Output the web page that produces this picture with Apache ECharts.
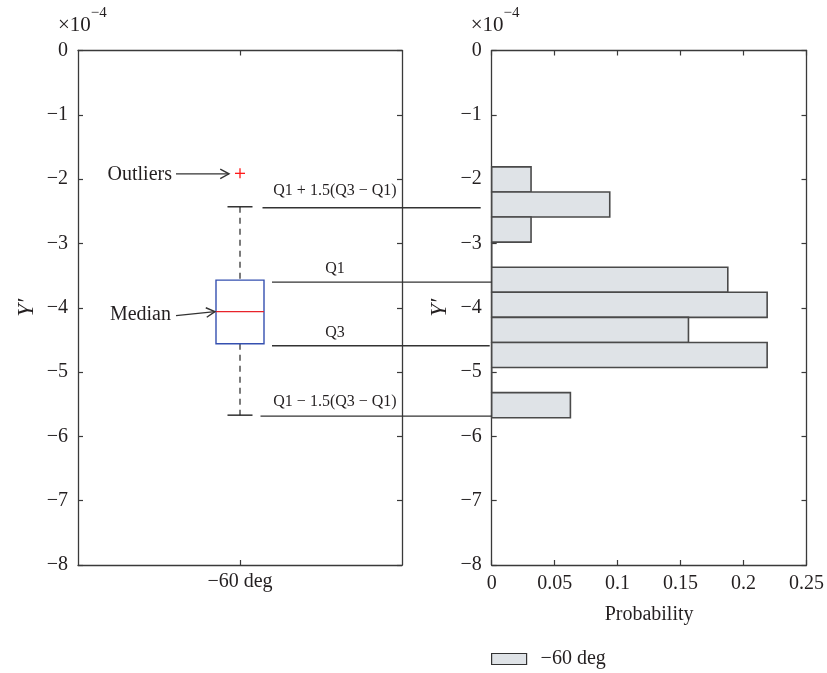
<!DOCTYPE html>
<html><head><meta charset="utf-8">
<script src="https://cdn.jsdelivr.net/npm/echarts@6/dist/echarts.min.js"></script>
<style>html,body{margin:0;padding:0;background:#fff}#c{width:827px;height:673px}</style>
</head><body><div id="c"></div>
<script>
// ---- data ----
const categories = ['−60 deg'];
// [lower whisker, lower quartile, median, upper quartile, upper whisker]  (×10^-4)
const boxStats = [-5.67, -4.56, -4.06, -3.57, -2.43];
const outliers = [-1.91];
// histogram bins (×10^-4), top edge -> bottom edge
const binEdges = [-1.81, -2.20, -2.59, -2.98, -3.37, -3.76, -4.15, -4.54, -4.93, -5.32, -5.71];
const probabilities = [0.03125, 0.09375, 0.03125, 0, 0.1875, 0.21875, 0.15625, 0.21875, 0, 0.0625];
const yRange = [-8, 0];
const probRange = [0, 0.25];
const annotationLabels = ['Q1 + 1.5(Q3 − Q1)', 'Q1', 'Q3', 'Q1 − 1.5(Q3 − Q1)'];
const annotationValues = [boxStats[4], boxStats[3], boxStats[1], boxStats[0]];

// ---- style ----
const FONT = '"Liberation Serif", "DejaVu Serif", serif';
const TXT = '#231f20';
const AX = '#3a3a3a';
const BOX_HALF = 24, CAP_HALF = 12.5;

const histData = probabilities.map((p, i) => [binEdges[i], binEdges[i + 1], p]);
const minus = v => String(v).replace('-', '−');

function axisBase(extra) {
  return Object.assign({
    axisLine: {show: true, onZero: false, lineStyle: {color: AX, width: 1.3}},
    axisTick: {show: true, inside: true, length: 5, lineStyle: {color: AX, width: 1.2}},
    axisLabel: {show: false},
    splitLine: {show: false}
  }, extra);
}
const labelStyle = {show: true, color: TXT, fontFamily: FONT, fontSize: 20, formatter: minus};

const option = {
  animation: false,
  backgroundColor: '#fff',
  grid: [
    {left: 78, right: 425, top: 50.5, bottom: 108},
    {left: 491.7, right: 19.3, top: 50.5, bottom: 108}
  ],
  xAxis: [
    axisBase({type: 'category', data: categories, gridIndex: 0, position: 'bottom',
      axisTick: {show: true, inside: true, length: 5, alignWithLabel: true, lineStyle: {color: AX, width: 1.2}},
      axisLabel: Object.assign({}, labelStyle, {margin: 7, formatter: null})}),
    axisBase({type: 'category', data: categories, gridIndex: 0, position: 'top',
      axisTick: {show: true, inside: true, length: 5, alignWithLabel: true, lineStyle: {color: AX, width: 1.2}}}),
    axisBase({type: 'value', gridIndex: 1, position: 'bottom', min: probRange[0], max: probRange[1], interval: 0.05,
      axisLabel: Object.assign({}, labelStyle, {margin: 9, formatter: null}),
      name: 'Probability', nameLocation: 'middle', nameGap: 40,
      nameTextStyle: {color: TXT, fontFamily: FONT, fontSize: 20}}),
    axisBase({type: 'value', gridIndex: 1, position: 'top', min: probRange[0], max: probRange[1], interval: 0.05})
  ],
  yAxis: [
    axisBase({type: 'value', gridIndex: 0, position: 'left', min: yRange[0], max: yRange[1], interval: 1,
      axisLabel: Object.assign({}, labelStyle, {margin: 10}),
      name: 'Y′', nameLocation: 'middle', nameGap: 40, nameRotate: 90,
      nameTextStyle: {color: TXT, fontFamily: FONT, fontSize: 23, fontStyle: 'italic'}}),
    axisBase({type: 'value', gridIndex: 0, position: 'right', min: yRange[0], max: yRange[1], interval: 1}),
    axisBase({type: 'value', gridIndex: 1, position: 'left', min: yRange[0], max: yRange[1], interval: 1,
      axisLabel: Object.assign({}, labelStyle, {margin: 10}),
      name: 'Y′', nameLocation: 'middle', nameGap: 40, nameRotate: 90,
      nameTextStyle: {color: TXT, fontFamily: FONT, fontSize: 23, fontStyle: 'italic'}}),
    axisBase({type: 'value', gridIndex: 1, position: 'right', min: yRange[0], max: yRange[1], interval: 1})
  ],
  legend: {
    left: 491, top: 649, padding: 0, icon: 'rect', itemWidth: 35, itemHeight: 11,
    textStyle: {color: TXT, fontFamily: FONT, fontSize: 20, padding: [0, 0, 0, 9]},
    data: [{name: '−60 deg', itemStyle: {color: '#dfe3e7', borderColor: '#333', borderWidth: 1.2}}]
  },
  series: [
    {
      name: 'box', type: 'custom', xAxisIndex: 0, yAxisIndex: 0,
      data: [[0].concat(boxStats)],
      renderItem: function (params, api) {
        const c = api.value(0);
        const pMin = api.coord([c, api.value(1)]);
        const pQ1 = api.coord([c, api.value(2)]);
        const pMed = api.coord([c, api.value(3)]);
        const pQ3 = api.coord([c, api.value(4)]);
        const pMax = api.coord([c, api.value(5)]);
        const x = pMed[0];
        const dash = {stroke: '#444', lineWidth: 1.4, lineDash: [6, 5]};
        const solid = {stroke: '#222', lineWidth: 1.4};
        return {type: 'group', children: [
          {type: 'line', shape: {x1: x, y1: pMax[1], x2: x, y2: pQ3[1]}, style: dash},
          {type: 'line', shape: {x1: x, y1: pQ1[1], x2: x, y2: pMin[1]}, style: dash},
          {type: 'line', shape: {x1: x - CAP_HALF, y1: pMax[1], x2: x + CAP_HALF, y2: pMax[1]}, style: solid},
          {type: 'line', shape: {x1: x - CAP_HALF, y1: pMin[1], x2: x + CAP_HALF, y2: pMin[1]}, style: solid},
          {type: 'rect', shape: {x: x - BOX_HALF, y: pQ3[1], width: 2 * BOX_HALF, height: pQ1[1] - pQ3[1]},
            style: {fill: 'none', stroke: '#3550b0', lineWidth: 1.4}},
          {type: 'line', shape: {x1: x - BOX_HALF, y1: pMed[1], x2: x + BOX_HALF, y2: pMed[1]},
            style: {stroke: '#e8232b', lineWidth: 1.4}}
        ]};
      }
    },
    {
      name: 'outliers', type: 'custom', xAxisIndex: 0, yAxisIndex: 0,
      data: outliers.map(v => [0, v]),
      renderItem: function (params, api) {
        const p = api.coord([api.value(0), api.value(1)]);
        const st = {stroke: '#ff1a1a', lineWidth: 1.3};
        return {type: 'group', children: [
          {type: 'line', shape: {x1: p[0] - 5, y1: p[1], x2: p[0] + 5, y2: p[1]}, style: st},
          {type: 'line', shape: {x1: p[0], y1: p[1] - 5, x2: p[0], y2: p[1] + 5}, style: st}
        ]};
      }
    },
    {
      name: '−60 deg', type: 'custom', xAxisIndex: 2, yAxisIndex: 2,
      itemStyle: {color: '#dfe3e7'},
      data: histData,
      renderItem: function (params, api) {
        const top = api.coord([0, api.value(0)]);
        const bot = api.coord([api.value(2), api.value(1)]);
        return {type: 'rect',
          shape: {x: top[0], y: top[1], width: bot[0] - top[0], height: bot[1] - top[1]},
          style: {fill: '#dfe3e7', stroke: '#4a4a4a', lineWidth: 1.6}};
      }
    }
  ]
};

const chart = echarts.init(document.getElementById('c'), null, {renderer: 'canvas'});
chart.setOption(option);

// ---- annotations placed through the axes' own scales ----
const cx = chart.convertToPixel({xAxisIndex: 0}, categories[0]);
const py = v => chart.convertToPixel({yAxisIndex: 0}, v);
const xr0 = chart.convertToPixel({xAxisIndex: 2}, 0);
const lineSt = {stroke: '#333', lineWidth: 1.4};
const g = [];
const starts = [cx + CAP_HALF + 10, cx + BOX_HALF + 8, cx + BOX_HALF + 8, cx + CAP_HALF + 8];
const ends = [xr0 - 11, xr0, xr0 - 2, xr0];
const yOff = [1, 2, 2, 1];
const tOff = [9, 5, 5, 6];
annotationValues.forEach((v, i) => {
  const y = py(v) + yOff[i];
  g.push({type: 'line', shape: {x1: starts[i], y1: y, x2: ends[i], y2: y}, style: lineSt, z: 10});
  g.push({type: 'text', x: cx + 95, y: y - tOff[i], z: 10,
    style: {text: annotationLabels[i], fill: TXT, font: '16px ' + FONT, textAlign: 'center', textVerticalAlign: 'bottom'}});
});
function arrow(x1, y1, x2, y2) {
  const a = Math.atan2(y2 - y1, x2 - x1), L = 10, w = 0.5;
  g.push({type: 'line', shape: {x1, y1, x2, y2}, style: lineSt, z: 10});
  g.push({type: 'polyline', z: 10, shape: {points: [
    [x2 - L * Math.cos(a - w), y2 - L * Math.sin(a - w)], [x2, y2],
    [x2 - L * Math.cos(a + w), y2 - L * Math.sin(a + w)]]}, style: Object.assign({fill: 'none'}, lineSt)});
}
const oy = py(outliers[0]);
arrow(cx - 64, oy + 0.5, cx - 11, oy + 0.5);
g.push({type: 'text', x: cx - 68, y: oy + 1, z: 10,
  style: {text: 'Outliers', fill: TXT, font: '20px ' + FONT, textAlign: 'right', textVerticalAlign: 'middle'}});
const my = py(boxStats[2]);
arrow(cx - 64, my + 4, cx - BOX_HALF - 1, my);
g.push({type: 'text', x: cx - 69, y: my + 3, z: 10,
  style: {text: 'Median', fill: TXT, font: '20px ' + FONT, textAlign: 'right', textVerticalAlign: 'middle'}});
// exponent labels
[cx - 182, xr0 - 21].forEach(x => {
  g.push({type: 'text', x: x, y: 6, style: {
    text: '{a|×10}{b|−4}', fill: TXT, textVerticalAlign: 'top',
    rich: {a: {fontFamily: FONT, fontSize: 21, fill: TXT, padding: [9, 0, 0, 0]},
           b: {fontFamily: FONT, fontSize: 15, fill: TXT, verticalAlign: 'top', padding: [0, 0, 12, 0]}}}});
});
chart.setOption({graphic: g});
</script></body></html>
